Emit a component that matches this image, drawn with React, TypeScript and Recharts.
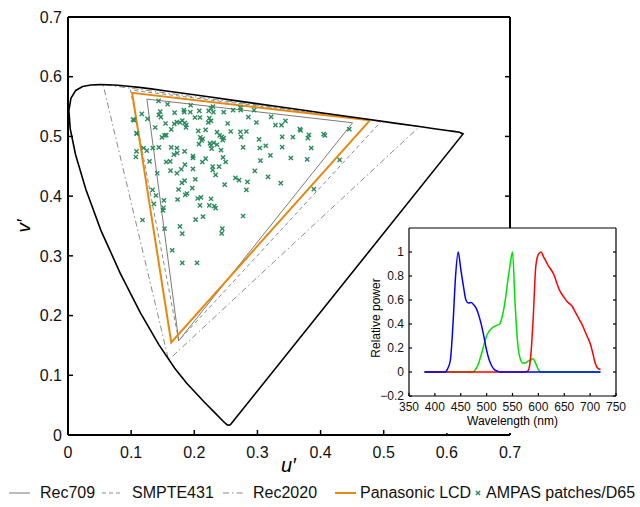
import React from "react";
import { ComposedChart, LineChart, Line, Scatter, XAxis, YAxis } from "recharts";

// ─── Data (CIE 1976 u′v′) ─────────────────────────
type UV = [number, number];

// spectral locus 380 → 700 nm, closed by the purple line
const spectralLocus: UV[] = [
  [0.2568, 0.0166], [0.2522, 0.0169], [0.2461, 0.0226], [0.2347, 0.035], [0.2161, 0.0549],
  [0.1877, 0.0871], [0.169, 0.1119], [0.1441, 0.151], [0.1147, 0.2044], [0.0828, 0.2708],
  [0.0521, 0.3427], [0.0282, 0.4117], [0.0119, 0.4698], [0.0035, 0.5131], [0.0014, 0.5432],
  [0.0046, 0.5638], [0.0123, 0.577], [0.0231, 0.5837], [0.036, 0.5861], [0.0501, 0.5868],
  [0.0643, 0.5865], [0.0792, 0.5856], [0.0953, 0.5841], [0.1127, 0.5821], [0.1319, 0.5796],
  [0.1531, 0.5766], [0.1766, 0.5732], [0.2026, 0.5694], [0.2312, 0.5651], [0.2623, 0.5604],
  [0.296, 0.5554], [0.3315, 0.5501], [0.3681, 0.5446], [0.4035, 0.5393], [0.4692, 0.5296],
  [0.5203, 0.5219], [0.5565, 0.5165], [0.583, 0.5125], [0.6005, 0.5099], [0.6109, 0.5084],
  [0.6199, 0.507], [0.6257, 0.5042], [0.2568, 0.0166],
];

const rec709: UV[] = [[0.4507, 0.5229], [0.125, 0.5625], [0.1754, 0.1579], [0.4507, 0.5229]];
const smpte431: UV[] = [[0.4964, 0.5256], [0.099, 0.5777], [0.1754, 0.1579], [0.4964, 0.5256]];
const rec2020: UV[] = [[0.5566, 0.5165], [0.0556, 0.5868], [0.1593, 0.1258], [0.5566, 0.5165]];
const panasonicLcd: UV[] = [[0.478, 0.527], [0.1016, 0.573], [0.1635, 0.155], [0.478, 0.527]];

const ampasPatches: UV[] = [
  [0.1434, 0.5594], [0.1577, 0.5539], [0.1942, 0.5522], [0.2296, 0.55], [0.2265, 0.5472],
  [0.273, 0.5483], [0.2735, 0.5439], [0.2947, 0.5439], [0.2614, 0.5439], [0.1169, 0.5378],
  [0.146, 0.5417], [0.1439, 0.5361], [0.1471, 0.5322], [0.1688, 0.54], [0.1836, 0.5439],
  [0.1841, 0.5406], [0.1937, 0.5406], [0.2079, 0.5428], [0.2228, 0.5428], [0.2302, 0.5406],
  [0.2466, 0.5406], [0.1048, 0.5272], [0.1259, 0.5294], [0.1545, 0.5217], [0.1683, 0.5211],
  [0.1725, 0.5239], [0.1847, 0.5222], [0.1873, 0.5194], [0.1868, 0.515], [0.2011, 0.5317],
  [0.209, 0.5317], [0.2238, 0.5306], [0.2265, 0.5261], [0.2222, 0.5233], [0.2529, 0.5217],
  [0.2857, 0.5322], [0.2984, 0.5233], [0.3217, 0.5328], [0.3286, 0.5189], [0.3381, 0.5189],
  [0.3444, 0.5261], [0.1381, 0.515], [0.1635, 0.5117], [0.1773, 0.5233], [0.181, 0.5267],
  [0.1085, 0.505], [0.1487, 0.4983], [0.1529, 0.5017], [0.1556, 0.5022], [0.2063, 0.5094],
  [0.2095, 0.4983], [0.2132, 0.4961], [0.218, 0.5111], [0.236, 0.5072], [0.2402, 0.5017],
  [0.2434, 0.4994], [0.2466, 0.4972], [0.245, 0.4939], [0.2577, 0.5083], [0.273, 0.5078],
  [0.2741, 0.4994], [0.2825, 0.5083], [0.3026, 0.495], [0.3392, 0.4994], [0.3561, 0.4989],
  [0.3672, 0.5122], [0.3683, 0.51], [0.3815, 0.5028], [0.3799, 0.4972], [0.4048, 0.5039],
  [0.4069, 0.5017], [0.4455, 0.5122], [0.4302, 0.4606], [0.3894, 0.4117], [0.1196, 0.4806],
  [0.1249, 0.4761], [0.1344, 0.4806], [0.1439, 0.4817], [0.1635, 0.4817], [0.1725, 0.4806],
  [0.173, 0.4722], [0.1677, 0.4694], [0.1847, 0.475], [0.1979, 0.4672], [0.1979, 0.4639],
  [0.2074, 0.4872], [0.2116, 0.4933], [0.2249, 0.4883], [0.2265, 0.485], [0.2275, 0.4794],
  [0.2307, 0.4894], [0.236, 0.4861], [0.2423, 0.4772], [0.2455, 0.465], [0.2497, 0.4572],
  [0.2773, 0.4817], [0.3037, 0.4806], [0.3048, 0.4594], [0.3132, 0.4844], [0.3206, 0.4683],
  [0.3392, 0.4822], [0.3529, 0.4639], [0.3788, 0.4617], [0.3852, 0.4806], [0.1074, 0.4656],
  [0.1291, 0.4583], [0.1413, 0.4383], [0.1556, 0.4572], [0.1619, 0.4583], [0.1624, 0.4428],
  [0.1725, 0.4383], [0.1794, 0.445], [0.1852, 0.4528], [0.1979, 0.4456], [0.2127, 0.4572],
  [0.218, 0.4628], [0.2291, 0.4494], [0.2291, 0.4439], [0.2338, 0.4356], [0.2392, 0.4494],
  [0.2481, 0.4194], [0.2651, 0.4306], [0.2709, 0.4267], [0.2825, 0.4106], [0.2841, 0.4239],
  [0.2958, 0.4422], [0.3169, 0.4322], [0.337, 0.4217], [0.1339, 0.4106], [0.1392, 0.4011],
  [0.136, 0.3872], [0.1519, 0.3928], [0.1513, 0.3806], [0.1503, 0.3761], [0.1751, 0.4111],
  [0.1804, 0.4222], [0.1847, 0.4261], [0.1857, 0.4022], [0.1884, 0.4044], [0.1735, 0.3944],
  [0.1968, 0.4133], [0.2016, 0.4283], [0.2053, 0.3961], [0.2106, 0.3978], [0.209, 0.3844],
  [0.2238, 0.3844], [0.2265, 0.3956], [0.2317, 0.3833], [0.2338, 0.38], [0.118, 0.36],
  [0.1529, 0.3456], [0.2021, 0.3606], [0.2138, 0.3656], [0.2773, 0.3667], [0.2444, 0.3456],
  [0.2434, 0.3378], [0.1651, 0.3094], [0.1773, 0.3494], [0.181, 0.3372], [0.181, 0.2883],
  [0.2043, 0.2883], [0.1085, 0.475], [0.103, 0.528], [0.109, 0.505],
];

const uTicks = [0, 0.1, 0.2, 0.3, 0.4, 0.5, 0.6, 0.7];
const vTicks = [0, 0.1, 0.2, 0.3, 0.4, 0.5, 0.6, 0.7];
const innerUTicks = [0.1, 0.2, 0.3, 0.4, 0.5, 0.6];
const innerVTicks = [0.1, 0.2, 0.3, 0.4, 0.5, 0.6];

// ─── Inset: Panasonic LCD primaries, relative power ──
const wavelengths = [
  380, 385, 390, 395, 400, 405, 410, 415, 420, 425,
  430, 435, 440, 445, 450, 455, 460, 465, 470, 475,
  480, 485, 490, 495, 500, 505, 510, 515, 520, 525,
  530, 535, 540, 545, 550, 555, 560, 565, 570, 575,
  580, 585, 590, 595, 600, 605, 610, 615, 620, 625,
  630, 635, 640, 645, 650, 655, 660, 665, 670, 675,
  680, 685, 690, 695, 700, 705, 710, 715, 720,
];
const bluePower = [
  0, 0, 0, 0, 0, 0, 0, 0, 0, 0.03,
  0.1, 0.4, 0.8, 1.0, 0.86, 0.72, 0.6, 0.575, 0.58, 0.56,
  0.53, 0.47, 0.39, 0.29, 0.18, 0.1, 0.05, 0.02, 0.01, 0,
  0, 0, 0, 0, 0, 0, 0, 0, 0, 0,
  0, 0, 0, 0, 0, 0, 0, 0, 0, 0,
  0, 0, 0, 0, 0, 0, 0, 0, 0, 0,
  0, 0, 0, 0, 0, 0, 0, 0, 0,
];
const greenPower = [
  0, 0, 0, 0, 0, 0, 0, 0, 0, 0,
  0, 0, 0, 0, 0, 0, 0, 0, 0, 0.005,
  0.03, 0.08, 0.15, 0.23, 0.3, 0.34, 0.365, 0.38, 0.39, 0.4,
  0.46, 0.57, 0.73, 0.88, 1.0, 0.57, 0.24, 0.11, 0.075, 0.075,
  0.09, 0.1, 0.11, 0.07, 0.02, 0, 0, 0, 0, 0,
  0, 0, 0, 0, 0, 0, 0, 0, 0, 0,
  0, 0, 0, 0, 0, 0, 0, 0, 0,
];
const redPower = [
  0, 0, 0, 0, 0, 0, 0, 0, 0, 0,
  0, 0, 0, 0, 0, 0, 0, 0, 0, 0,
  0, 0, 0, 0, 0, 0, 0, 0, 0, 0,
  0, 0, 0, 0, 0, 0, 0, 0, 0, 0,
  0.01, 0.12, 0.45, 0.88, 0.98, 1.0, 0.96, 0.92, 0.88, 0.85,
  0.81, 0.75, 0.69, 0.65, 0.62, 0.59, 0.57, 0.55, 0.51, 0.47,
  0.43, 0.39, 0.34, 0.29, 0.24, 0.16, 0.07, 0.03, 0.02,
];
const wlTicks = [350, 400, 450, 500, 550, 600, 650, 700, 750];
const wlInnerTicks = [400, 450, 500, 550, 600, 650, 700];
const powerTicks = [-0.2, 0, 0.2, 0.4, 0.6, 0.8, 1];

// ─── Helpers ──────────────────────────────────────
const FONT = '"Liberation Sans", Arial, Helvetica, sans-serif';
const GREEN = "#2a8a5c";
const ORANGE = "#e5890f";

const toPts = (arr: UV[]) => arr.map(([u, v]) => ({ u, v }));
const spectra = wavelengths.map((wl, i) => ({
  wl,
  blue: bluePower[i],
  green: greenPower[i],
  red: redPower[i],
}));

const Cross = (props: any) => {
  const { cx, cy } = props;
  if (cx == null || cy == null) return <g />;
  const s = 2.1;
  return (
    <g stroke={GREEN} strokeWidth={1.4}>
      <line x1={cx - s} y1={cy - s} x2={cx + s} y2={cy + s} />
      <line x1={cx - s} y1={cy + s} x2={cx + s} y2={cy - s} />
    </g>
  );
};

const noLabel = () => <g />;
const fmtPower = (v: number) => (v < 0 ? `\u2212${Math.abs(v)}` : `${v}`);

const axisLine = { stroke: "#000", strokeWidth: 2 };
const tickLine = { stroke: "#000", strokeWidth: 1.5 };
const mainTick = { fontSize: 16, fill: "#111", fontFamily: FONT };
const insetAxis = { stroke: "#000", strokeWidth: 1.2 };
const insetTick = { fontSize: 12, fill: "#111", fontFamily: FONT };

const abs = (left: number, top: number): React.CSSProperties => ({
  position: "absolute",
  left,
  top,
});

const rotated = (cx: number, cy: number, size: number, italic = false): React.CSSProperties => ({
  position: "absolute",
  left: cx,
  top: cy,
  transform: "translate(-50%, -50%) rotate(-90deg)",
  fontSize: size,
  fontStyle: italic ? "italic" : "normal",
  fontFamily: FONT,
  whiteSpace: "nowrap",
  lineHeight: 1,
});

function LegendSample({ dash, color, width }: { dash?: string; color: string; width: number }) {
  return (
    <svg width={22} height={10} style={{ display: "block" }}>
      <line x1={0} y1={5} x2={21} y2={5} stroke={color} strokeWidth={width} strokeDasharray={dash} />
    </svg>
  );
}

// ─── Component ────────────────────────────────────
export default function App() {
  const legendText: React.CSSProperties = {
    position: "absolute",
    top: 484,
    fontSize: 16,
    lineHeight: "18px",
    fontFamily: FONT,
    color: "#111",
    whiteSpace: "nowrap",
  };

  return (
    <div style={{ position: "absolute", left: 0, top: 0, width: 640, height: 507, background: "#fff" }}>
      <div style={abs(0, 0)}>
        <ComposedChart width={640} height={470} margin={{ top: 16, right: 129, bottom: 5, left: 0 }}>
          <XAxis
            type="number"
            dataKey="u"
            domain={[0, 0.7]}
            ticks={uTicks}
            interval={0}
            allowDataOverflow
            height={30}
            axisLine={axisLine}
            tickLine={tickLine}
            tickSize={-5}
            tickMargin={17}
            tick={mainTick}
          />
          <XAxis
            xAxisId="top"
            orientation="top"
            type="number"
            domain={[0, 0.7]}
            ticks={innerUTicks}
            interval={0}
            allowDataOverflow
            height={1}
            axisLine={axisLine}
            tickLine={tickLine}
            tickSize={-5}
            tick={noLabel}
          />
          <YAxis
            type="number"
            dataKey="v"
            domain={[0, 0.7]}
            ticks={vTicks}
            interval={0}
            allowDataOverflow
            width={68}
            axisLine={axisLine}
            tickLine={tickLine}
            tickSize={-5}
            tickMargin={11}
            tick={mainTick}
          />
          <YAxis
            yAxisId="right"
            orientation="right"
            type="number"
            domain={[0, 0.7]}
            ticks={innerVTicks}
            interval={0}
            allowDataOverflow
            width={1}
            axisLine={axisLine}
            tickLine={tickLine}
            tickSize={-5}
            tick={noLabel}
          />

          <Line data={toPts(rec2020)} dataKey="v" type="linear" stroke="#8a8a8a" strokeWidth={1}
            strokeDasharray="6 3 1.5 3" dot={false} activeDot={false} isAnimationActive={false} />
          <Line data={toPts(smpte431)} dataKey="v" type="linear" stroke="#8a8a8a" strokeWidth={1}
            strokeDasharray="4 3" dot={false} activeDot={false} isAnimationActive={false} />
          <Line data={toPts(rec709)} dataKey="v" type="linear" stroke="#7a7a7a" strokeWidth={1}
            dot={false} activeDot={false} isAnimationActive={false} />
          <Line data={toPts(panasonicLcd)} dataKey="v" type="linear" stroke={ORANGE} strokeWidth={2}
            dot={false} activeDot={false} isAnimationActive={false} />
          <Scatter data={toPts(ampasPatches)} dataKey="v" shape={Cross} isAnimationActive={false} />
          <Line data={toPts(spectralLocus)} dataKey="v" type="linear" stroke="#000" strokeWidth={1.6}
            strokeLinejoin="miter" dot={false} activeDot={false} isAnimationActive={false} />
        </ComposedChart>
      </div>

      <span style={rotated(23, 226, 19, true)}>v′</span>
      <span
        style={{ ...abs(281, 455), fontSize: 20, fontStyle: "italic", fontFamily: FONT, lineHeight: 1 }}
      >
        u′
      </span>

      {/* inset backdrop hides the main frame behind it */}
      <div style={{ ...abs(396, 228), width: 244, height: 205, background: "#fff" }} />

      <div style={abs(360, 222)}>
        <LineChart width={280} height={220} data={spectra} margin={{ top: 5, right: 23, bottom: 6, left: 0 }}>
          <XAxis
            type="number"
            dataKey="wl"
            domain={[350, 750]}
            ticks={wlTicks}
            interval={0}
            allowDataOverflow
            height={40}
            axisLine={insetAxis}
            tickLine={insetAxis}
            tickSize={-3}
            tickMargin={9}
            tick={insetTick}
          />
          <XAxis
            xAxisId="top"
            orientation="top"
            type="number"
            domain={[350, 750]}
            ticks={wlInnerTicks}
            interval={0}
            allowDataOverflow
            height={1}
            axisLine={insetAxis}
            tickLine={insetAxis}
            tickSize={-3}
            tick={noLabel}
          />
          <YAxis
            type="number"
            domain={[-0.2, 1.2]}
            ticks={powerTicks}
            interval={0}
            allowDataOverflow
            width={49}
            axisLine={insetAxis}
            tickLine={insetAxis}
            tickSize={-3}
            tickMargin={8}
            tick={insetTick}
            tickFormatter={fmtPower}
          />
          <YAxis
            yAxisId="right"
            orientation="right"
            type="number"
            domain={[-0.2, 1.2]}
            ticks={powerTicks}
            interval={0}
            allowDataOverflow
            width={1}
            axisLine={insetAxis}
            tickLine={insetAxis}
            tickSize={-3}
            tick={noLabel}
          />
          <Line dataKey="green" type="monotone" stroke="#00e000" strokeWidth={1.5} dot={false}
            activeDot={false} isAnimationActive={false} />
          <Line dataKey="red" type="monotone" stroke="#ff0000" strokeWidth={1.5} dot={false}
            activeDot={false} isAnimationActive={false} />
          <Line dataKey="blue" type="monotone" stroke="#0000ff" strokeWidth={1.5} dot={false}
            activeDot={false} isAnimationActive={false} />
        </LineChart>
      </div>

      <span style={rotated(376, 318, 12)}>Relative power</span>
      <span style={{ ...abs(467, 415), fontSize: 12, fontFamily: FONT, lineHeight: 1, whiteSpace: "nowrap" }}>
        Wavelength (nm)
      </span>

      {/* legend */}
      <div style={abs(9, 488)}><LegendSample color="#7a7a7a" width={1} /></div>
      <span style={{ ...legendText, left: 40 }}>Rec709</span>
      <div style={abs(102, 488)}><LegendSample color="#8a8a8a" width={1} dash="4 3" /></div>
      <span style={{ ...legendText, left: 132 }}>SMPTE431</span>
      <div style={abs(223, 488)}><LegendSample color="#8a8a8a" width={1} dash="6 3 1.5 3" /></div>
      <span style={{ ...legendText, left: 253 }}>Rec2020</span>
      <div style={abs(335, 488)}><LegendSample color={ORANGE} width={2} /></div>
      <span style={{ ...legendText, left: 360 }}>Panasonic LCD</span>
      <svg width={8} height={8} style={abs(474, 489)}>
        <Cross cx={4} cy={4} />
      </svg>
      <span style={{ ...legendText, left: 486 }}>AMPAS patches/D65</span>
    </div>
  );
}
